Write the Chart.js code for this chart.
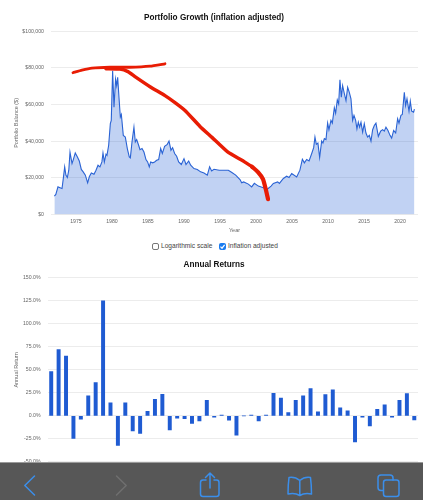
<!DOCTYPE html>
<html>
<head>
<meta charset="utf-8">
<title>Portfolio Growth</title>
<script src="https://cdn.jsdelivr.net/npm/chart.js@4"></script>
<style>
html, body { margin: 0; padding: 0; background: #fff; width: 423px; height: 500px; overflow: hidden; }
body { position: relative; font-family: "Liberation Sans", Arial, sans-serif; }
canvas { position: absolute; left: 0; }
#growthChart { top: 0; }
#returnsChart { top: 250px; }
.check { position: absolute; top: 242.5px; width: 7px; height: 7px; border-radius: 2px; box-sizing: border-box; }
#logBox { left: 152px; border: 1px solid #777; background: #fff; }
#inflBox { left: 219px; background: #1a7cf0; }
#inflBox svg { position: absolute; left: 0; top: 0; }
.checkLabel { position: absolute; top: 242px; font-size: 6.6px; line-height: 8px; color: #444; white-space: nowrap; }
#toolbar { position: absolute; left: 0; top: 462px; width: 423px; height: 38px; background: #575757; border-top: 1px solid #9a9a9a; box-sizing: border-box; }
#toolbar svg { position: absolute; left: 0; top: -1px; }
</style>
</head>
<body>
<canvas id="growthChart" width="423" height="236"></canvas>
<canvas id="returnsChart" width="423" height="222"></canvas>

<div class="check" id="logBox"></div>
<div class="checkLabel" style="left:161px">Logarithmic scale</div>
<div class="check" id="inflBox">
  <svg width="7" height="7" viewBox="0 0 7 7"><path d="M1.5 3.6 L3 5.2 L5.6 1.8" fill="none" stroke="#fff" stroke-width="1.2"/></svg>
</div>
<div class="checkLabel" style="left:228px">Inflation adjusted</div>

<div id="toolbar">
  <svg width="423" height="38" viewBox="0 0 423 38" fill="none" stroke="#3b8eea" stroke-width="1.5" stroke-linecap="round" stroke-linejoin="round">
    <path d="M34.5 14 L24.8 23.5 L34.5 33"/>
    <path d="M116.5 14 L126.2 23.5 L116.5 33" stroke="#6f6f6f"/>
    <path d="M206 18 H203 Q200.5 18 200.5 20.5 V32 Q200.5 34.5 203 34.5 H216.5 Q219 34.5 219 32 V20.5 Q219 18 216.5 18 H214"/>
    <path d="M210 26 V11.5 M205.5 15.5 L210 11 L214.5 15.5"/>
    <path d="M299.8 18.5 Q295 14.5 289 15.5 Q288 23 288 32 Q295 30.5 299.8 33.5 Q304.5 30.5 311.5 32 Q311.5 23 310.5 15.5 Q304.5 14.5 299.8 18.5 V33.5"/>
    <path d="M383 28.5 H381 Q378 28.5 378 25.5 V16 Q378 13 381 13 H390 Q393 13 393 16 V18"/>
    <rect x="383.5" y="18" width="15.5" height="16.5" rx="2.5"/>
  </svg>
</div>

<script>
// Portfolio balance (inflation adjusted)
var growthYears = [1972, 1972.2, 1972.5, 1972.7, 1973.06, 1973.24, 1973.43, 1973.6, 1973.8, 1974, 1974.17, 1974.45, 1974.63, 1974.9, 1975.2, 1975.46, 1975.74, 1976, 1976.3, 1976.62, 1976.85, 1977.13, 1977.5, 1977.78, 1978.06, 1978.33, 1978.6, 1978.75, 1978.94, 1979.17, 1979.3, 1979.54, 1979.77, 1979.9, 1980.09, 1980.28, 1980.5, 1980.65, 1980.79, 1980.97, 1981.16, 1981.3, 1981.57, 1981.85, 1982.13, 1982.4, 1982.55, 1982.78, 1983.05, 1983.24, 1983.43, 1983.7, 1983.89, 1984.17, 1984.44, 1984.72, 1984.95, 1985.18, 1985.37, 1985.65, 1985.92, 1986.2, 1986.48, 1986.76, 1986.99, 1987.31, 1987.68, 1987.92, 1988.19, 1988.42, 1988.7, 1988.98, 1989.26, 1989.63, 1990, 1990.28, 1990.65, 1990.93, 1991.39, 1991.85, 1992.31, 1992.78, 1993.24, 1993.56, 1993.84, 1994.17, 1994.9, 1995.24, 1996.16, 1996.6, 1997.18, 1997.78, 1998.01, 1998.29, 1998.94, 1999.4, 1999.77, 2000.33, 2001.02, 2001.6, 2002.09, 2002.41, 2003.01, 2003.25, 2003.8, 2004.26, 2004.59, 2004.96, 2005.65, 2006.1, 2006.44, 2006.72, 2007.04, 2007.37, 2007.74, 2008.01, 2008.19, 2008.38, 2008.6, 2008.84, 2009.12, 2009.3, 2009.49, 2009.72, 2009.95, 2010.13, 2010.41, 2010.6, 2010.88, 2011.06, 2011.29, 2011.48, 2011.66, 2011.85, 2012.03, 2012.26, 2012.5, 2012.73, 2012.96, 2013.19, 2013.42, 2013.61, 2013.84, 2014.02, 2014.21, 2014.39, 2014.58, 2014.81, 2015.04, 2015.27, 2015.5, 2015.74, 2015.97, 2016.2, 2016.43, 2016.66, 2016.99, 2017.31, 2017.59, 2017.82, 2018.05, 2018.33, 2018.61, 2018.84, 2019.12, 2019.4, 2019.67, 2019.86, 2020.13, 2020.32, 2020.6, 2020.78, 2020.97, 2021.25, 2021.43, 2021.62, 2021.89, 2022];
var growthValues = [10050, 10970, 15100, 14800, 14200, 19700, 26000, 21500, 20200, 24200, 34000, 27800, 30000, 33600, 31400, 29200, 24600, 23300, 21500, 17300, 20600, 22700, 22000, 24200, 26900, 26000, 28700, 33600, 28700, 32900, 32300, 37800, 49600, 51400, 78500, 58600, 73900, 70400, 74900, 64000, 53200, 54600, 43200, 42300, 36000, 31400, 30900, 39600, 47700, 39600, 40900, 37800, 35400, 36000, 34100, 30000, 28700, 26000, 28700, 28200, 28700, 29600, 30000, 36000, 33300, 37200, 38300, 40100, 35100, 36500, 33300, 31800, 28700, 27300, 30500, 27300, 29200, 26900, 25100, 24600, 23300, 22700, 21500, 26000, 23800, 24700, 24200, 24200, 24200, 23100, 21500, 19100, 17300, 17800, 16600, 15100, 17000, 15500, 14600, 13900, 15500, 17000, 17800, 17000, 19700, 20900, 20200, 22400, 20500, 24200, 30200, 28200, 30000, 29200, 33300, 36500, 42300, 38300, 39000, 31100, 40100, 39000, 41400, 40900, 49900, 46300, 51400, 49900, 58300, 55300, 62600, 60400, 73500, 64000, 70400, 66200, 62200, 69500, 66700, 63200, 51400, 54100, 51400, 46800, 50400, 47700, 50400, 45000, 49600, 44500, 42300, 43200, 40100, 46300, 48600, 49900, 42700, 45500, 46300, 45500, 47700, 45900, 43200, 41700, 45900, 44500, 52300, 49900, 54100, 54600, 66700, 59500, 63200, 56400, 61900, 56400, 55900, 57500];

// Red pen strokes drawn over the chart
var penTopYears = [1974.58, 1975.83, 1977.22, 1979.72, 1982.5, 1985.28, 1987.36];
var penTopValues = [77400, 78800, 79900, 80400, 80400, 81000, 82300];
var penDownYears = [1979.17, 1981.11, 1982.22, 1983.19, 1985.28, 1987.36, 1988.75, 1990.14, 1992.22, 1993.89, 1996.11, 1998.05, 1999.44];
var penDownValues = [79600, 79400, 78000, 75300, 69800, 64900, 61100, 56800, 48100, 42100, 34000, 29600, 26100];
var penEndYears = [1999.44, 2000.28, 2000.97, 2001.39, 2001.67];
var penEndValues = [26100, 23100, 19300, 13300, 8400];

var growthTicks = [0, 20000, 40000, 60000, 80000, 100000];
var tickYears = [1975, 1980, 1985, 1990, 1995, 2000, 2005, 2010, 2015, 2020];

// Annual returns in percent
var returnYears = [1972, 1973, 1974, 1975, 1976, 1977, 1978, 1979, 1980, 1981, 1982, 1983, 1984, 1985, 1986, 1987, 1988, 1989, 1990, 1991, 1992, 1993, 1994, 1995, 1996, 1997, 1998, 1999, 2000, 2001, 2002, 2003, 2004, 2005, 2006, 2007, 2008, 2009, 2010, 2011, 2012, 2013, 2014, 2015, 2016, 2017, 2018, 2019, 2020, 2021];
var returnValues = [48.2, 72, 65, -24.6, -3.6, 21.7, 36.2, 125, 14.1, -32, 14.1, -16.3, -19.2, 5, 18.1, 23.5, -15.2, -2.5, -3, -8.3, -5.4, 17, -1.5, 0.8, -4.7, -21, 0, 0.8, -5.5, 0.8, 24.6, 19.2, 3.6, 17, 21.7, 29.7, 4.3, 23.2, 28.3, 8.7, 5.4, -28.3, -1.5, -10.9, 7.2, 12, -1.5, 17, 24.3, -4.3];

var fontName = '"Liberation Sans", Arial, sans-serif';
var gridColor = '#ececec';
var tickColor = '#666';

function toPoints(xs, ys) {
    return xs.map(function (x, i) { return { x: x, y: ys[i] }; });
}

function penStroke(xs, ys, width) {
    return {
        data: toPoints(xs, ys),
        borderColor: '#e81c04',
        borderWidth: width,
        borderCapStyle: 'round',
        borderJoinStyle: 'round',
        pointRadius: 0,
        tension: 0.15,
        fill: false,
        order: 0
    };
}

function fixWidth(w) {
    return function (scale) { scale.width = w; };
}

new Chart(document.getElementById('growthChart'), {
    type: 'line',
    data: {
        datasets: [
            penStroke(penTopYears, penTopValues, 2.8),
            penStroke(penDownYears, penDownValues, 3.5),
            penStroke(penEndYears, penEndValues, 4.2),
            {
                data: toPoints(growthYears, growthValues),
                borderColor: '#2a63d4',
                backgroundColor: 'rgba(42, 99, 212, 0.29)',
                borderWidth: 1.1,
                pointRadius: 0,
                tension: 0,
                fill: 'origin',
                order: 1
            }
        ]
    },
    options: {
        responsive: false,
        animation: false,
        devicePixelRatio: 1,
        layout: { padding: { left: 10, right: 5, top: 0, bottom: 2.5 } },
        plugins: {
            legend: { display: false },
            tooltip: { enabled: false },
            title: {
                display: true,
                text: 'Portfolio Growth (inflation adjusted)',
                color: '#111',
                font: { family: fontName, size: 8.2, weight: 'bold' },
                padding: { top: 13, bottom: 8.5 }
            }
        },
        scales: {
            x: {
                type: 'linear',
                min: 1971.53,
                max: 2022.5,
                grid: { display: false, drawTicks: false },
                border: { display: false },
                afterBuildTicks: function (scale) {
                    scale.ticks = tickYears.map(function (y) { return { value: y }; });
                },
                afterFit: function (scale) { scale.height = 19; },
                ticks: {
                    color: tickColor,
                    font: { family: fontName, size: 5.2 },
                    padding: 4,
                    maxRotation: 0,
                    autoSkip: false,
                    callback: function (v) { return String(v); }
                },
                title: {
                    display: true,
                    text: 'Year',
                    color: tickColor,
                    font: { family: fontName, size: 5.5 },
                    padding: { top: 0, bottom: 0 }
                }
            },
            y: {
                min: 0,
                max: 100000,
                afterBuildTicks: function (scale) {
                    scale.ticks = growthTicks.map(function (v) { return { value: v }; });
                },
                afterFit: fixWidth(41),
                grid: { color: gridColor, lineWidth: 1, drawTicks: false },
                border: { display: false },
                ticks: {
                    color: tickColor,
                    font: { family: fontName, size: 5.2 },
                    padding: 7,
                    callback: function (v) { return '$' + v.toLocaleString('en-US'); }
                },
                title: {
                    display: true,
                    text: 'Portfolio Balance ($)',
                    color: tickColor,
                    font: { family: fontName, size: 5.5 },
                    padding: { top: 3, bottom: 0 }
                }
            }
        }
    }
});

new Chart(document.getElementById('returnsChart'), {
    type: 'bar',
    data: {
        labels: returnYears,
        datasets: [{
            data: returnValues,
            backgroundColor: '#1f5bd2',
            barThickness: 3.3
        }]
    },
    options: {
        responsive: false,
        animation: false,
        devicePixelRatio: 1,
        layout: { padding: { left: 10, right: 5, top: 0, bottom: 2 } },
        plugins: {
            legend: { display: false },
            tooltip: { enabled: false },
            title: {
                display: true,
                text: 'Annual Returns',
                color: '#111',
                font: { family: fontName, size: 8.2, weight: 'bold' },
                padding: { top: 10, bottom: 8 }
            }
        },
        scales: {
            x: {
                display: false
            },
            y: {
                min: -50,
                max: 150,
                afterFit: fixWidth(37.5),
                grid: { color: gridColor, lineWidth: 1, drawTicks: false },
                border: { display: false },
                ticks: {
                    stepSize: 25,
                    color: tickColor,
                    font: { family: fontName, size: 5.2 },
                    padding: 7,
                    callback: function (v) { return v.toFixed(1) + '%'; }
                },
                title: {
                    display: true,
                    text: 'Annual Return',
                    color: tickColor,
                    font: { family: fontName, size: 5.5 },
                    padding: { top: 3, bottom: 0 }
                }
            }
        }
    }
});
</script>
</body>
</html>
